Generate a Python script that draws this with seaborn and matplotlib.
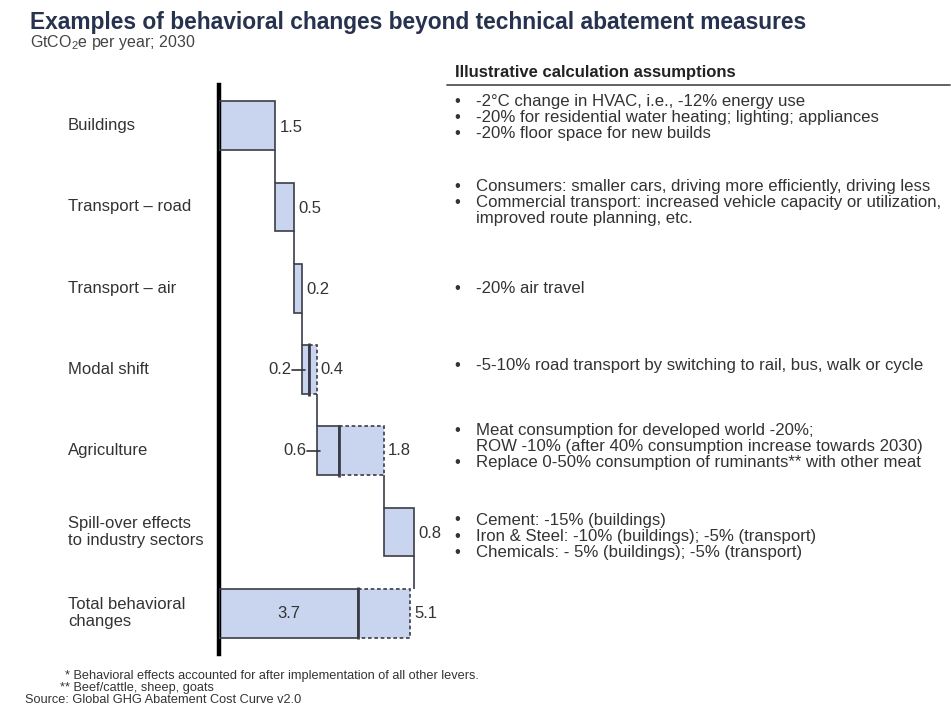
import matplotlib
matplotlib.use('Agg')
import matplotlib.pyplot as plt
import matplotlib.transforms as mtransforms
from matplotlib.lines import Line2D
import seaborn as sns

# data
categories = ['Buildings', 'Transport – road', 'Transport – air', 'Modal shift',
              'Agriculture', 'Spill-over effects\nto industry sectors']
low_values = [1.5, 0.5, 0.2, 0.2, 0.6, 0.8]
high_values = [1.5, 0.5, 0.2, 0.4, 1.8, 0.8]
total_label = 'Total behavioral\nchanges'
total_low = 3.7
total_high = 5.1

assumptions = [
    ['-2°C change in HVAC, i.e., -12% energy use',
     '-20% for residential water heating; lighting; appliances',
     '-20% floor space for new builds'],
    ['Consumers: smaller cars, driving more efficiently, driving less',
     'Commercial transport: increased vehicle capacity or utilization,',
     None, 'improved route planning, etc.'],
    ['-20% air travel'],
    ['-5-10% road transport by switching to rail, bus, walk or cycle'],
    ['Meat consumption for developed world -20%;',
     None, 'ROW -10% (after 40% consumption increase towards 2030)',
     'Replace 0-50% consumption of ruminants** with other meat'],
    ['Cement: -15% (buildings)',
     'Iron & Steel: -10% (buildings); -5% (transport)',
     'Chemicals: - 5% (buildings); -5% (transport)'],
]
# vertical nudges of each text block (in category units)
block_shift = [-0.1, -0.05, 0.0, -0.05, -0.05, 0.05]

title = 'Examples of behavioral changes beyond technical abatement measures'
subtitle = 'GtCO$_2$e per year; 2030'
header = 'Illustrative calculation assumptions'
footnotes = ['* Behavioral effects accounted for after implementation of all other levers.',
             '** Beef/cattle, sheep, goats']
source = 'Source: Global GHG Abatement Cost Curve v2.0'

sns.set_theme(style='white')
plt.rcParams['font.family'] = ['Liberation Sans', 'DejaVu Sans']
plt.rcParams['mathtext.fontset'] = 'custom'
plt.rcParams['mathtext.rm'] = 'Liberation Sans'

fill = '#c9d5ef'
edge = '#3c3c48'
text_col = '#333333'
fs = 12
W, H = 951, 717

fig = plt.figure(figsize=(W / 100, H / 100), dpi=100)
fig.patch.set_facecolor('white')
ax = fig.add_axes([219 / W, (H - 654) / H, 225 / W, 569 / H])
ax.set_xlim(0, 6)
ax.set_ylim(6.5, -0.5)
ax.set_xticks([])
ax.set_yticks([])
sns.despine(ax=ax, top=True, right=True, bottom=True, left=False)
ax.spines['left'].set_linewidth(3.2)
ax.spines['left'].set_color('black')
ax.set_facecolor('white')

bh = 0.6
dash = (0, (2.2, 1.6))


def draw_bar(y, start, lo, hi):
    ax.barh(y, hi, left=start, height=bh, color=fill, edgecolor='none', zorder=2)
    ax.barh(y, lo, left=start, height=bh, fill=False, edgecolor=edge, lw=1.2, zorder=3)
    if hi > lo:
        ax.barh(y, hi - lo, left=start + lo, height=bh, fill=False,
                edgecolor=edge, lw=1.2, linestyle=dash, zorder=3)
        ax.vlines(start + lo, y - bh / 2 - 0.02, y + bh / 2 + 0.02,
                  color=edge, lw=2.0, zorder=4)


start = 0.0
ends = []
for i, (lo, hi) in enumerate(zip(low_values, high_values)):
    draw_bar(i, start, lo, hi)
    if hi > lo:
        ax.text(hi + start + 0.1, i, f'{hi:.1f}', va='center', ha='left',
                fontsize=fs, color=text_col)
        ax.plot([start - 0.25, start + 0.08], [i, i], color=text_col, lw=1.2, zorder=5)
        ax.text(start - 0.27, i, f'{lo:.1f}', va='center', ha='right',
                fontsize=fs, color=text_col)
    else:
        ax.text(start + hi + 0.12, i + 0.02, f'{hi:.1f}', va='center', ha='left',
                fontsize=fs, color=text_col)
    start += hi
    ends.append(start)

n = len(categories)
draw_bar(n, 0, total_low, total_high)
ax.text(total_low / 2, n, f'{total_low:.1f}', va='center', ha='center',
        fontsize=fs, color=text_col)
ax.text(total_high + 0.1, n, f'{total_high:.1f}', va='center', ha='left',
        fontsize=fs, color=text_col)

# connectors
for i, e in enumerate(ends):
    ax.vlines(e, i + bh / 2, i + 1 - bh / 2, color=edge, lw=1.2, zorder=1)

# category labels
lab_tr = mtransforms.blended_transform_factory(fig.transFigure, ax.transData)
for i, c in enumerate(categories + [total_label]):
    ax.text(68 / W, i, c, transform=lab_tr, va='center', ha='left',
            fontsize=fs, color=text_col, linespacing=1.15)

# assumptions
for i, lines in enumerate(assumptions):
    bullets = []
    texts = []
    k = 0
    while k < len(lines):
        if lines[k] is None:
            k += 1
            continue
        cont = k > 0 and lines[k - 1] is None
        bullets.append(' ' if cont else '•')
        texts.append(lines[k])
        k += 1
    y = i + block_shift[i]
    ax.text(454 / W, y, '\n'.join(bullets), transform=lab_tr, va='center',
            ha='left', fontsize=fs, color=text_col, linespacing=1.1)
    ax.text(476 / W, y, '\n'.join(texts), transform=lab_tr, va='center',
            ha='left', fontsize=12.1, color=text_col, linespacing=1.09)

# header and titles
fig.text(455 / W, 1 - 72 / H, header, fontsize=12, fontweight='bold',
         color='#222222', va='center', ha='left')
fig.add_artist(Line2D([447 / W, 950 / W], [1 - 85 / H, 1 - 85 / H],
                      color='#555555', lw=1.3, transform=fig.transFigure))
fig.text(30 / W, 1 - 22 / H, title, fontsize=16.4, fontweight='bold',
         color='#27324f', va='center', ha='left')
fig.text(30 / W, 1 - 42 / H, subtitle, fontsize=11.5, color='#444444',
         va='center', ha='left')

fig.text(65 / W, 1 - 676 / H, footnotes[0], fontsize=9.2, color=text_col,
         va='center', ha='left')
fig.text(60 / W, 1 - 688 / H, footnotes[1], fontsize=9.2, color=text_col,
         va='center', ha='left')
fig.text(25 / W, 1 - 700 / H, source, fontsize=9.2, color=text_col,
         va='center', ha='left')

fig.savefig('out.png', dpi=100, facecolor='white')
